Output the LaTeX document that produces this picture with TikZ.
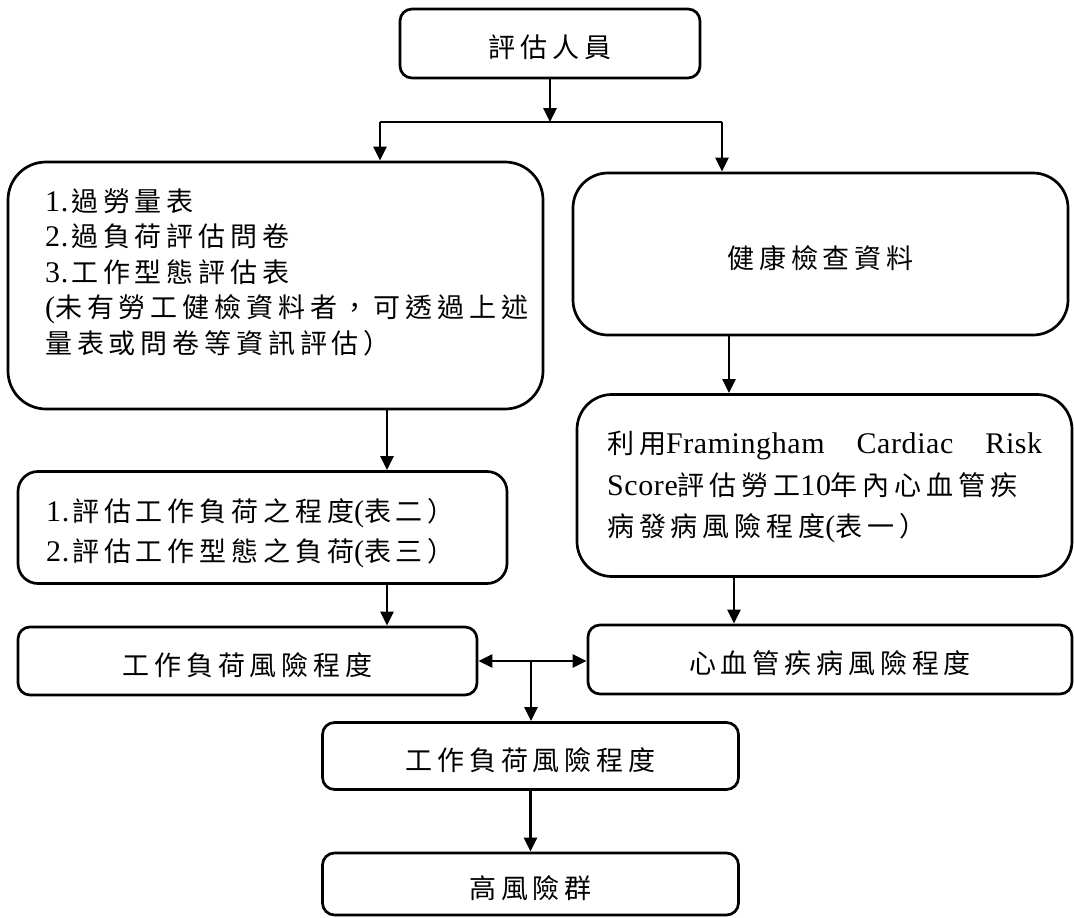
\documentclass[tikz,border=0pt]{standalone}
\usepackage{fontspec}
\setmainfont[LetterSpace=18]{Noto Sans CJK TC}
\newfontfamily\lat[Scale=1.11,LetterSpace=2]{Liberation Serif}
\usetikzlibrary{arrows.meta}
\tikzset{
  bx/.style={draw, line width=2.7pt, inner sep=0pt, text height=28.5pt, text depth=0pt, font=\fontsize{27}{36}\selectfont},
  txt/.style={inner sep=0pt, anchor=west, align=left},
  ln/.style={line width=2.7pt},
  arr/.style={line width=2.7pt, -{Triangle[length=14pt,width=13pt]}},
  darr/.style={line width=2.7pt, {Triangle[length=14pt,width=13pt]}-{Triangle[length=14pt,width=13pt]}},
}
\begin{document}
\begin{tikzpicture}[x=1pt,y=-1pt]
\useasboundingbox[fill=white] (0,0) rectangle (1074,918);
% boxes
\node[bx, rounded corners=12pt, minimum width=300pt, minimum height=69pt] (top) at (550,43.5) {評估人員};
\node[bx, rounded corners=38pt, minimum width=535pt, minimum height=247pt] (b1) at (275.5,285.5) {};
\node[bx, rounded corners=35pt, minimum width=495pt, minimum height=162pt] (b2) at (820.5,254) {健康檢查資料};
\node[bx, rounded corners=35pt, minimum width=495pt, minimum height=182pt] (b3) at (824.5,485.5) {};
\node[bx, rounded corners=20pt, minimum width=489pt, minimum height=112pt] (b4) at (262.5,527.5) {};
\node[bx, rounded corners=12pt, minimum width=459pt, minimum height=68pt] (b5) at (247.5,661) {工作負荷風險程度};
\node[bx, rounded corners=12pt, minimum width=484pt, minimum height=69pt] (b6) at (830,659.5) {心血管疾病風險程度};
\node[bx, rounded corners=12pt, minimum width=416pt, minimum height=67pt] (b7) at (530.5,756) {工作負荷風險程度};
\node[bx, rounded corners=12pt, minimum width=416pt, minimum height=62pt] (b8) at (530.5,884) {高風險群};
% multi-line texts
\node[txt, font=\fontsize{27}{35.5}\selectfont] (b1t) at (45,272)
 {{\lat 1.}\kern3pt 過勞量表\\{\lat 2.}\kern3pt 過負荷評估問卷\\{\lat 3.}\kern3pt 工作型態評估表\\{\lat (}未有勞工健檢資料者，可透過上述\\量表或問卷等資訊評估）};
\node[txt, font=\fontsize{27}{41.5}\selectfont] (b3t) at (607,487)
 {利用{\lat Framingham\kern32pt Cardiac\kern32pt Risk}\\{\lat Score}評估勞工{\lat 10}年內心血管疾\\病發病風險程度{\lat (}表一）};
\node[txt, font=\fontsize{27}{40}\selectfont] (b4t) at (46,533)
 {{\lat 1.}\kern3pt 評估工作負荷之程度{\lat (}表二）\\{\lat 2.}\kern3pt 評估工作型態之負荷{\lat (}表三）};
% coordinates
\coordinate (sp) at (550,122);
\coordinate (spl) at (380,122);
\coordinate (spr) at (722,122);
\coordinate (cl) at (387,0);
\coordinate (cr1) at (729,0);
\coordinate (cr2) at (734,0);
\coordinate (br) at (531,661);
% connectors
\draw[arr] (top.south) -- (sp);
\draw[ln] (spl) -- (spr);
\draw[arr] (spl) -- (spl |- b1.north);
\draw[arr] (spr) -- (spr |- b2.north);
\draw[arr] (cr1 |- b2.south) -- (cr1 |- b3.north);
\draw[arr] (cl |- b1.south) -- (cl |- b4.north);
\draw[arr] (cl |- b4.south) -- (cl |- b5.north);
\draw[arr] (cr2 |- b3.south) -- (cr2 |- b6.north);
\draw[darr] (b5.east) -- (b5.east -| b6.west);
\draw[arr] (br) -- (br |- b7.north);
\draw[arr] (b7.south) -- (b8.north);
\end{tikzpicture}
\end{document}
